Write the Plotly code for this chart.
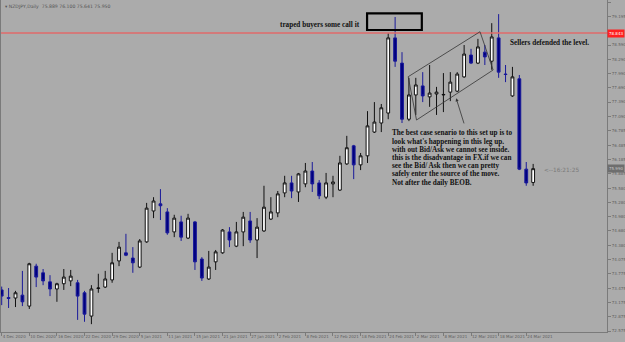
import plotly.graph_objects as go

# ---- data ----
opens = [73.44,73.28,73.27,73.33,73.10,73.94,73.80,73.61,73.46,73.57,
         73.63,73.59,73.38,72.89,73.47,73.50,73.65,74.05,74.22,74.11,
         73.92,74.45,75.10,75.25,75.08,74.66,74.87,74.53,74.87,74.09,
         73.67,74.03,74.22,74.66,74.36,74.66,74.89,74.49,74.68,74.93,
         75.06,75.48,75.69,75.50,75.67,75.94,75.69,75.39,75.67,75.54,
         76.09,76.47,76.07,76.26,76.76,76.95,77.16,78.74,78.21,77.03,
         77.54,77.73,77.50,77.56,77.54,77.60,77.62,77.92,78.38,78.21,
         78.44,78.25,78.74,77.98,77.52,77.88,75.98,75.70]
highs = [73.51,73.48,73.42,73.84,74.01,73.99,73.88,73.75,73.59,73.88,
         73.86,73.65,73.42,73.54,73.78,73.84,74.22,74.45,74.62,74.34,
         74.51,75.27,75.39,75.56,75.16,75.02,75.00,75.04,74.89,74.13,
         74.26,74.28,74.72,74.76,74.87,75.08,75.08,74.95,75.63,75.39,
         75.52,75.84,75.84,75.90,76.11,76.13,75.75,75.90,75.84,76.26,
         76.68,76.49,76.32,77.20,77.39,77.35,78.84,79.18,78.44,77.90,
         77.90,78.02,78.17,77.71,78.00,78.02,78.02,78.59,78.51,78.72,
         78.59,79.05,79.24,78.17,78.13,77.96,76.13,76.09]
lows = [73.12,73.06,73.08,73.10,73.04,73.50,73.54,73.31,73.19,73.44,
        73.52,72.81,72.77,72.72,73.38,73.48,73.59,73.94,74.15,73.80,
        73.90,74.43,74.95,74.91,74.60,74.55,74.47,74.51,73.86,73.63,
        73.65,73.86,74.20,74.34,74.34,74.36,74.43,74.11,74.66,74.91,
        74.97,75.39,75.37,75.29,75.60,75.50,75.35,75.35,75.39,75.52,
        76.07,75.77,75.96,76.11,76.74,76.76,77.03,78.13,76.95,76.99,
        77.12,77.39,77.29,77.12,77.18,77.41,77.60,77.90,78.19,78.19,
        78.17,78.07,77.90,77.81,77.50,75.96,75.63,75.63]
closes = [73.31,73.26,73.38,73.19,73.99,73.71,73.63,73.46,73.57,73.71,
          73.73,73.31,72.93,73.46,73.48,73.67,74.01,74.34,74.17,74.01,
          74.47,75.16,75.31,75.21,74.64,74.95,74.55,74.95,74.03,73.69,
          73.92,74.24,74.70,74.49,74.66,74.97,74.49,74.76,75.18,75.08,
          75.46,75.69,75.52,75.88,75.94,75.67,75.42,75.69,75.71,76.11,
          76.43,76.07,76.26,76.89,76.97,77.27,78.74,78.25,77.03,77.54,
          77.75,77.52,77.58,77.60,77.55,77.81,77.98,78.40,78.21,78.55,
          78.34,78.76,78.02,77.97,77.92,75.98,75.69,75.99]

date_labels = ["4 Dec 2020","10 Dec 2020","16 Dec 2020","22 Dec 2020","29 Dec 2020",
               "5 Jan 2021","11 Jan 2021","15 Jan 2021","21 Jan 2021","27 Jan 2021",
               "2 Feb 2021","8 Feb 2021","12 Feb 2021","18 Feb 2021","24 Feb 2021",
               "2 Mar 2021","8 Mar 2021","12 Mar 2021","18 Mar 2021","24 Mar 2021"]
date_label_bars = [0,4,8,12,16,20,24,28,32,36,40,44,48,52,56,60,64,68,72,76]

# 78.895 is hidden behind the red level label in the reference
price_ticks = [72.575,72.875,73.175,73.475,73.775,74.075,74.380,74.680,74.980,75.280,
               75.580,75.885,76.185,76.485,76.785,77.090,77.390,77.690,77.990,78.290,
               78.590,79.195,79.495]

level_price = 78.843
header_text = "▾ NZDJPY,Daily  75.889 76.100 75.641 75.950"

note_lines = ["The best case senario to this set up is to",
              "look what's happening in this leg up.",
              "with out Bid/Ask we cannot see inside.",
              "this is the disadvantage in FX.if we can",
              "see the Bid/ Ask then we can pretty",
              "safely enter the source of the move.",
              "Not after the daily BEOB."]

bars = list(range(len(opens)))

fig = go.Figure()
fig.add_trace(go.Candlestick(
    x=bars, open=opens, high=highs, low=lows, close=closes,
    increasing=dict(line=dict(color="#111111", width=1), fillcolor="#ffffff"),
    decreasing=dict(line=dict(color="#1a1a9a", width=1), fillcolor="#00007f"),
    whiskerwidth=0, showlegend=False, hoverinfo="skip"))

BG = "#ababab"
AX = "#7a7a7a"
TXT = "#5e5e5e"
SMALL = 4.0

fig.update_layout(
    width=625, height=342,
    margin=dict(l=1, r=18, t=0, b=10, autoexpand=False),
    paper_bgcolor=BG, plot_bgcolor=BG,
    showlegend=False,
    boxgap=0.42,
    xaxis=dict(range=[-0.1, 87.7], rangeslider=dict(visible=False),
               tickmode="array", tickvals=date_label_bars, ticktext=date_labels,
               ticks="outside", ticklen=3, tickcolor=AX, tickangle=0,
               ticklabelposition="outside right", automargin=False,
               tickfont=dict(family="DejaVu Sans", size=SMALL, color=TXT),
               showgrid=False, zeroline=False, showline=True, linecolor=AX, linewidth=1),
    yaxis=dict(range=[72.555, 79.537], side="right", automargin=False,
               tickmode="array", tickvals=price_ticks,
               ticktext=[f"{v:.3f}" for v in price_ticks],
               ticks="outside", ticklen=3, tickcolor=AX,
               tickfont=dict(family="DejaVu Sans", size=SMALL, color=TXT),
               showgrid=False, zeroline=False, showline=True, mirror=True,
               linecolor=AX, linewidth=1),
    font=dict(family="Liberation Serif"),
)

# horizontal level line
fig.add_shape(type="line", xref="paper", x0=0, x1=1, yref="y", y0=level_price, y1=level_price,
              line=dict(color="#e06a6a", width=1.5))
# price labels on right axis
fig.add_annotation(xref="paper", x=1.0, xanchor="left", y=level_price, yref="y",
                   text=f"{level_price:.3f}", showarrow=False,
                   font=dict(family="DejaVu Sans", size=SMALL, color="white"),
                   bgcolor="#ff2020", borderpad=1)
fig.add_annotation(xref="paper", x=1.0, xanchor="left", y=closes[-1], yref="y",
                   text=f"{closes[-1]:.3f}", showarrow=False,
                   font=dict(family="DejaVu Sans", size=SMALL, color="#c8c8c8"),
                   bgcolor="#6e6e6e", borderpad=1)

# header
fig.add_annotation(xref="paper", yref="paper", x=0.004, y=0.995, xanchor="left", yanchor="top",
                   text=header_text, showarrow=False,
                   font=dict(family="DejaVu Sans", size=4.6, color="#555555"))

BLACK_TXT = dict(family="Liberation Serif", size=7.2, color="#111111")

# "traped buyers" label and box
fig.add_annotation(x=40.0, y=79.01, xanchor="left", yanchor="middle",
                   text="<b>traped buyers some call it</b>", showarrow=False, font=BLACK_TXT)
fig.add_shape(type="rect", x0=52.94, x1=60.87, y0=78.906, y1=79.257,
              line=dict(color="#000000", width=2.2))

# sellers defended
fig.add_annotation(x=73.38, y=78.633, xanchor="left", yanchor="middle",
                   text="<b>Sellers defended the level.</b>", showarrow=False, font=BLACK_TXT)

# explanatory block, one line per annotation for tight line spacing
line_step = 0.1725
for k, ln in enumerate(note_lines):
    fig.add_annotation(x=56.3, y=76.73 - k * line_step, xanchor="left", yanchor="middle",
                       text=f"<b>{ln}</b>", showarrow=False, font=BLACK_TXT)

# timer text
fig.add_annotation(x=78.3, y=75.96, xanchor="left", yanchor="middle",
                   text="<--16:21:25", showarrow=False,
                   font=dict(family="DejaVu Sans", size=5.8, color="#7a7a7a"))

# channel drawing
chan = [(58.9, 77.924), (69.3, 78.87), (71.2, 78.065), (60.1, 77.013)]
for i in range(4):
    a = chan[i]; b = chan[(i + 1) % 4]
    fig.add_shape(type="line", xref="x", yref="y", x0=a[0], y0=a[1], x1=b[0], y1=b[1],
                  line=dict(color="#333333", width=0.8))

# arrow from text to channel
fig.add_annotation(x=65.85, y=77.47, ax=67.05, ay=76.91, axref="x", ayref="y",
                   showarrow=True, arrowhead=2, arrowsize=0.8, arrowwidth=0.8,
                   arrowcolor="#333333", text="")

fig.write_html("out.html")
